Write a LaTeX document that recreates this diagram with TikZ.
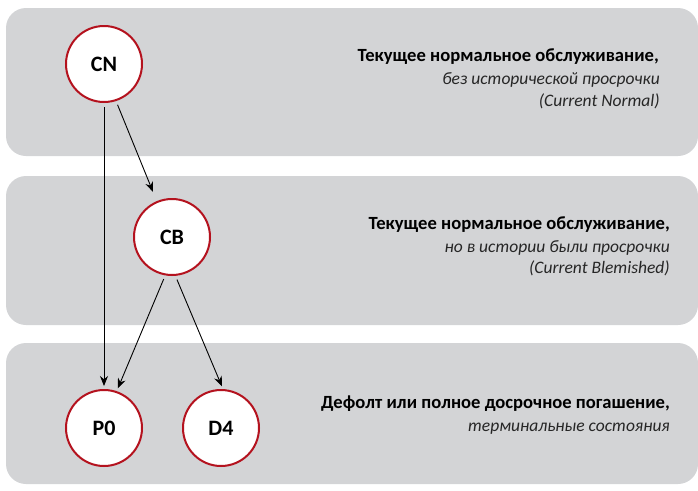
\documentclass[tikz,border=0pt]{standalone}
\usepackage{fontspec}
\setmainfont{Carlito}
\usepackage{tikz}
\usetikzlibrary{arrows.meta}
\definecolor{bandgrey}{RGB}{211,212,214}
\definecolor{statered}{RGB}{180,18,30}

\begin{document}
\begin{tikzpicture}[x=1pt, y=-1pt,
  band/.style={fill=bandgrey, rounded corners=20pt},
  state/.style={circle, draw=statered, line width=2pt, fill=white, minimum size=76pt, inner sep=0pt, font=\fontsize{22}{26}\selectfont\bfseries},
  link/.style={-{Stealth[length=10pt, width=8pt]}, line width=0.9pt, shorten <=4pt, shorten >=3pt},
  desc/.style={anchor=base east, inner sep=0pt, font=\fontsize{18.6}{22}\selectfont\bfseries},
  note/.style={anchor=base east, inner sep=0pt, font=\fontsize{17.5}{22}\selectfont\itshape, text=black!85}]
  \useasboundingbox (0,0) rectangle (698,490);
  \fill[band] (6,8) rectangle (698,156);
  \fill[band] (6,176) rectangle (698,325);
  \fill[band] (6,343) rectangle (698,484);
  \node[state] (CN) at (104,64) {CN};
  \node[state] (CB) at (172,237) {CB};
  \node[state] (P0) at (104,428) {P0};
  \node[state] (D4) at (221,428) {D4};
  \draw[link] (CN.-90) -- (P0.90);
  \draw[link, shorten >=10pt] (CN.-72) -- (CB.113);
  \draw[link] (CB.-100) -- (P0.71);
  \draw[link] (CB.-85) -- (D4.87);
  \node[desc] (cnhead) at (659,61) {Текущее нормальное обслуживание,};
  \node[note] (cnnote) at (660,84) {без исторической просрочки};
  \node[note] (cnname) at (660,106) {(Current Normal)};
  \node[desc] (cbhead) at (670,229) {Текущее нормальное обслуживание,};
  \node[note] (cbnote) at (670,252) {но в истории были просрочки};
  \node[note] (cbname) at (670,273) {(Current Blemished)};
  \node[desc] (endhead) at (670,408) {Дефолт или полное досрочное погашение,};
  \node[note] (endnote) at (670,431) {терминальные состояния};
\end{tikzpicture}
\end{document}
